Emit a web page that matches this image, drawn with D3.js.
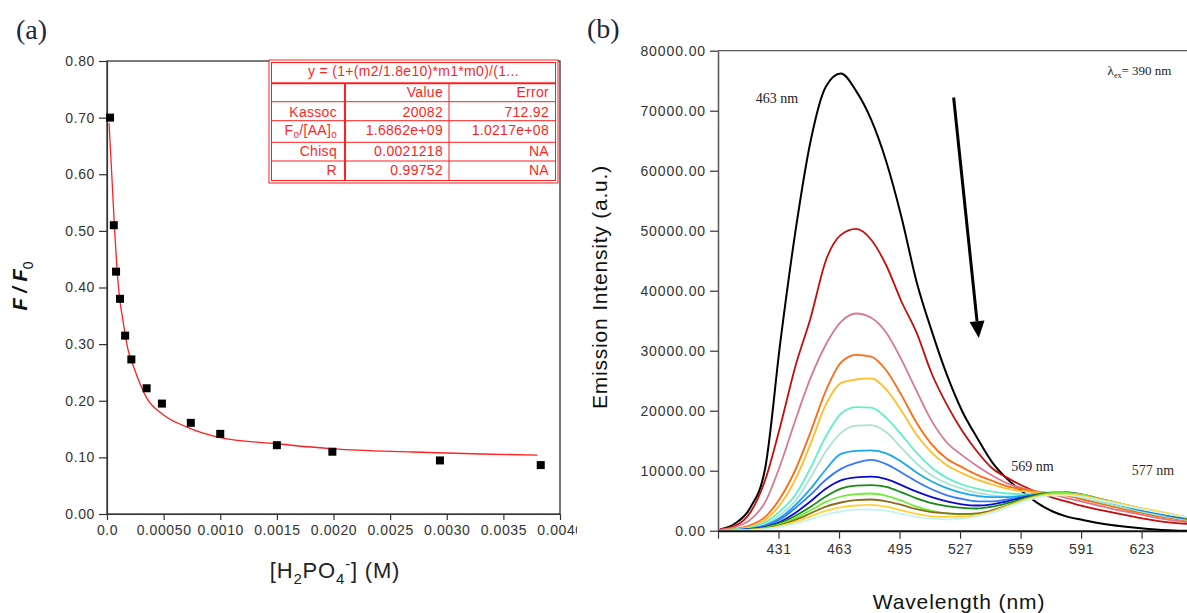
<!DOCTYPE html>
<html>
<head>
<meta charset="utf-8">
<script src="https://cdn.jsdelivr.net/npm/d3@7"></script>
<style>
body { margin: 0; background: #fff; }
svg { display: block; font-family: "Liberation Sans", Arial, sans-serif; }
.serif { font-family: "Liberation Serif", "Times New Roman", serif; }
</style>
</head>
<body>
<div id="chart"></div>
<script>
// ---------- panel (a) data : F/F0 vs [H2PO4-] ----------
const concX = [0.000027, 0.00006, 0.00008, 0.000115, 0.00016, 0.000215, 0.00035, 0.000485, 0.00074, 0.001, 0.0015, 0.00199, 0.00294, 0.00383];
const ratioY = [0.700, 0.510, 0.428, 0.380, 0.315, 0.273, 0.222, 0.195, 0.161, 0.1415, 0.1215, 0.110, 0.0946, 0.0864];

// fitted curve
const fitX = [0.000018, 0.000042, 0.000065, 0.000086, 0.000113, 0.000136, 0.000186, 0.000235, 0.00035, 0.0005, 0.0007, 0.001, 0.0015, 0.002, 0.0027, 0.0033, 0.0038];
const fitY = [0.690, 0.600, 0.510, 0.440, 0.378, 0.348, 0.290, 0.260, 0.205, 0.175, 0.154, 0.135, 0.124, 0.115, 0.1095, 0.106, 0.104];

const ratioTicks = [0, 0.1, 0.2, 0.3, 0.4, 0.5, 0.6, 0.7, 0.8];
const ratioTickLabels = ['0.00', '0.10', '0.20', '0.30', '0.40', '0.50', '0.60', '0.70', '0.80'];
const concTicks = [0, 0.0005, 0.001, 0.0015, 0.002, 0.0025, 0.003, 0.0035, 0.004];
const concTickLabels = ['0.0', '0.00050', '0.0010', '0.0015', '0.0020', '0.0025', '0.0030', '0.0035', '0.0040'];

const tableRows = [
  ['', 'Value', 'Error'],
  ['Kassoc', '20082', '712.92'],
  ['F0/[AA]0', '1.6862e+09', '1.0217e+08'],
  ['Chisq', '0.0021218', 'NA'],
  ['R', '0.99752', 'NA']
];

// ---------- panel (b) data : emission spectra ----------
const wavelengths = [400, 408, 416, 424, 432, 440, 448, 456, 464, 472, 480, 488, 496, 504, 512, 520,
                     528, 536, 544, 552, 560, 568, 576, 584, 592, 600, 608, 616, 624, 632, 640, 648];

const sBlack  = [200, 1200, 3800, 10500, 31500, 50000, 65000, 74000, 76200, 73300, 68500, 61500, 52300, 41500, 33300, 26000,
                 20000, 15500, 11400, 8600, 6500, 4600, 3200, 2300, 1800, 1300, 900, 600, 350, 150, 50, 0];
const sRed    = [200, 800, 3000, 8500, 17500, 27500, 35500, 45000, 49300, 50300, 48500, 44200, 38200, 33000, 26200, 21000,
                 16700, 13200, 10400, 8800, 7500, 6400, 5500, 4800, 4100, 3500, 3000, 2500, 2000, 1600, 1300, 1100];
const sPink   = [150, 600, 1800, 4800, 11000, 18500, 25500, 31000, 34800, 36200, 35500, 33000, 28500, 23300, 18300, 14700,
                 12600, 10800, 9200, 7900, 7100, 6500, 6000, 5400, 4800, 4200, 3600, 3100, 2600, 2100, 1700, 1400];
const sOrange = [100, 300, 900, 2300, 5500, 10200, 16500, 23300, 28000, 29300, 29000, 26700, 22600, 18000, 14400, 12000,
                 10600, 9300, 8300, 7400, 6900, 6500, 6200, 5800, 5200, 4600, 4000, 3400, 2900, 2400, 2000, 1600];
const sGold   = [80, 250, 700, 1800, 4400, 8600, 14500, 21000, 24600, 25200, 25400, 23500, 20000, 16000, 13000, 10900,
                 9600, 8500, 7700, 7000, 6600, 6400, 6300, 6000, 5500, 4900, 4300, 3700, 3200, 2700, 2300, 1900];
const sAqua   = [60, 200, 550, 1400, 3300, 6000, 10500, 15700, 19500, 20600, 20500, 18800, 16000, 13000, 10500, 8800,
                 7700, 7000, 6500, 6200, 6100, 6100, 6200, 6000, 5500, 4900, 4300, 3700, 3100, 2600, 2200, 1800];
const sSea    = [50, 150, 450, 1100, 2700, 5000, 8900, 13200, 16300, 17500, 17600, 16400, 13800, 11200, 9200, 7900,
                 7000, 6300, 5900, 5700, 5800, 5900, 6100, 6000, 5600, 5000, 4400, 3800, 3200, 2700, 2200, 1800];
const sSky    = [40, 120, 350, 900, 2200, 4300, 7000, 10200, 12800, 13300, 13400, 12900, 11500, 9700, 8200, 7100,
                 6300, 5800, 5600, 5600, 5800, 6100, 6300, 6200, 5800, 5200, 4600, 3900, 3300, 2800, 2300, 1900];
const sBlue   = [40, 100, 300, 800, 1900, 3800, 6000, 8500, 10300, 11300, 11800, 11100, 9700, 8200, 6900, 5900,
                 5300, 4900, 4900, 5200, 5600, 6000, 6300, 6200, 5800, 5200, 4600, 4000, 3400, 2900, 2400, 2000];
const sNavy   = [30, 80, 250, 650, 1500, 3000, 4900, 7000, 8400, 8900, 9000, 8600, 7600, 6500, 5600, 4900,
                 4400, 4200, 4400, 4900, 5500, 6000, 6300, 6400, 6000, 5400, 4800, 4200, 3500, 3000, 2500, 2000];
const sGreen  = [30, 70, 200, 550, 1300, 2500, 4000, 5700, 7000, 7500, 7600, 7300, 6400, 5400, 4600, 4100,
                 3800, 3700, 4000, 4600, 5300, 6000, 6400, 6300, 5900, 5300, 4700, 4100, 3500, 3000, 2500, 2000];
const sLime   = [20, 60, 170, 450, 1100, 2100, 3400, 4800, 5700, 6100, 6200, 5800, 5000, 4000, 3300, 2900,
                 2700, 2800, 3300, 4200, 5100, 5800, 6300, 6300, 6000, 5400, 4800, 4200, 3600, 3100, 2600, 2100];
const sOlive  = [20, 50, 150, 400, 950, 1800, 2900, 4000, 4700, 5100, 5200, 4900, 4300, 3600, 3100, 2900,
                 2800, 2900, 3400, 4200, 5000, 5700, 6100, 6100, 5800, 5300, 4700, 4100, 3600, 3100, 2600, 2100];
const sYellow = [15, 40, 120, 330, 800, 1500, 2400, 3300, 3900, 4200, 4300, 4000, 3400, 2800, 2400, 2300,
                 2300, 2600, 3200, 4100, 5000, 5700, 6100, 6100, 5800, 5300, 4800, 4200, 3700, 3200, 2700, 2200];
const sPale   = [10, 30, 100, 270, 650, 1200, 1900, 2700, 3200, 3500, 3500, 3300, 2800, 2300, 2000, 1900,
                 2000, 2400, 3000, 3900, 4800, 5500, 5900, 5900, 5600, 5100, 4600, 4000, 3500, 3000, 2600, 2200];

const spectra = [sBlack, sRed, sPink, sOrange, sGold, sAqua, sSea, sSky, sBlue, sNavy, sGreen, sLime, sOlive, sYellow, sPale];
const spectraColors = ['#000000', '#c40d0d', '#d9788f', '#ff6a13', '#ffbd2a', '#5ff0c8', '#abe2d0', '#1aa8ee',
                       '#3478ff', '#0a0ad0', '#168a16', '#6cee34', '#8b6d1a', '#ffd23a', '#c6f2f2'];

const intensityTicks = [0, 10000, 20000, 30000, 40000, 50000, 60000, 70000, 80000];
const wlTicks = [399, 431, 463, 495, 527, 559, 591, 623];
const wlTickLabels = ['', '431', '463', '495', '527', '559', '591', '623'];

// ---------- setup ----------
const WIDTH = 1187;
const HEIGHT = 613;

const svg = d3.select('#chart')
  .append('svg')
    .attr('width', WIDTH)
    .attr('height', HEIGHT);

svg.append('rect').attr('width', WIDTH).attr('height', HEIGHT).attr('fill', '#fff');

// panel (a) is cut off on its right, as in the source figure
svg.append('clipPath').attr('id', 'clipA')
  .append('rect').attr('x', 0).attr('y', 0).attr('width', 577).attr('height', HEIGHT);

const styleAxis = (g, size, spacing) => {
  g.selectAll('.domain').attr('stroke', '#333').attr('stroke-width', 1.2);
  g.selectAll('.tick line').attr('stroke', '#333').attr('stroke-width', 1.2);
  g.selectAll('.tick text')
    .attr('fill', '#333')
    .style('font-size', size + 'px')
    .style('letter-spacing', spacing + 'px');
};

// ================= panel (a) =================
const boxA = {left: 107, right: 560, top: 61, bottom: 514};

const xA = d3.scaleLinear().domain([0, 0.004]).range([boxA.left, boxA.right]);
const yA = d3.scaleLinear().domain([0, 0.8]).range([boxA.bottom, boxA.top]);

const gA = svg.append('g').attr('clip-path', 'url(#clipA)');

svg.append('text')
  .attr('class', 'serif')
  .attr('x', 16).attr('y', 39)
  .style('font-size', '28px')
  .attr('fill', '#1c2640')
  .text('(a)');

// frame
gA.append('rect')
  .attr('x', boxA.left).attr('y', boxA.top)
  .attr('width', boxA.right - boxA.left).attr('height', boxA.bottom - boxA.top)
  .attr('fill', 'none').attr('stroke', '#222').attr('stroke-width', 1.2);

gA.append('g')
  .attr('transform', `translate(${boxA.left},0)`)
  .call(d3.axisLeft(yA).tickValues(ratioTicks).tickFormat((d, i) => ratioTickLabels[i]).tickSize(8).tickSizeOuter(0).tickPadding(4))
  .call(g => styleAxis(g, 14, 0.6));

gA.append('g')
  .attr('transform', `translate(0,${boxA.bottom})`)
  .call(d3.axisBottom(xA).tickValues(concTicks).tickFormat((d, i) => concTickLabels[i]).tickSize(6).tickSizeOuter(0).tickPadding(5))
  .call(g => styleAxis(g, 14, 0.6));

// fit line
const fitData = fitX.map((x, i) => ({x, y: fitY[i]}));
gA.append('path')
  .datum(fitData)
  .attr('fill', 'none')
  .attr('stroke', '#ff2020')
  .attr('stroke-width', 1.3)
  .attr('d', d3.line().x(d => xA(d.x)).y(d => yA(d.y)).curve(d3.curveMonotoneX));

// data squares
const pts = concX.map((x, i) => ({x, y: ratioY[i]}));
gA.selectAll('.pt')
  .data(pts)
  .enter()
  .append('rect')
    .attr('class', 'pt')
    .attr('x', d => xA(d.x) - 4)
    .attr('y', d => yA(d.y) - 4)
    .attr('width', 8)
    .attr('height', 8)
    .attr('fill', '#000');

// axis titles
const yTitleA = gA.append('text')
  .attr('transform', 'translate(27,286) rotate(-90)')
  .attr('text-anchor', 'middle')
  .style('font-size', '20px')
  .style('font-weight', 'bold')
  .attr('fill', '#111');
yTitleA.append('tspan').style('font-style', 'italic').text('F / F');
yTitleA.append('tspan').attr('dy', 6).style('font-size', '14px').style('font-weight', 'normal').text('0');

const xTitleA = gA.append('text')
  .attr('x', 335).attr('y', 578)
  .attr('text-anchor', 'middle')
  .style('font-size', '22px')
  .style('letter-spacing', '0.8px')
  .attr('fill', '#222');
xTitleA.append('tspan').text('[H');
xTitleA.append('tspan').attr('dy', 6).style('font-size', '15px').text('2');
xTitleA.append('tspan').attr('dy', -6).text('PO');
xTitleA.append('tspan').attr('dy', 6).style('font-size', '15px').text('4');
xTitleA.append('tspan').attr('dy', -15).style('font-size', '15px').text('-');
xTitleA.append('tspan').attr('dy', 9).text('] (M)');

// results table
const tbl = {x: 269, y: 60, w: 289, h: 123};
const tblRed = '#ff1f1f';
const rowLines = [83.3, 101.7, 120.7, 142.3, 161];
const colLines = [345, 449];
const colRight = [337, 443, 549];
const rowBase = [97, 116.5, 135, 155.5, 175];

const gT = gA.append('g');
gT.append('rect').attr('x', tbl.x).attr('y', tbl.y).attr('width', tbl.w).attr('height', tbl.h)
  .attr('fill', '#fff').attr('stroke', tblRed).attr('stroke-width', 1);
gT.append('rect').attr('x', tbl.x + 2.5).attr('y', tbl.y + 2.5).attr('width', tbl.w - 5).attr('height', tbl.h - 5)
  .attr('fill', 'none').attr('stroke', tblRed).attr('stroke-width', 1);

rowLines.forEach((y, i) => {
  gT.append('line').attr('x1', tbl.x + 2.5).attr('x2', tbl.x + tbl.w - 2.5).attr('y1', y).attr('y2', y)
    .attr('stroke', tblRed).attr('stroke-width', i === 0 ? 2 : 1);
});
colLines.forEach((x, i) => {
  gT.append('line').attr('x1', x).attr('x2', x).attr('y1', rowLines[0]).attr('y2', tbl.y + tbl.h - 2.5)
    .attr('stroke', tblRed).attr('stroke-width', i === 0 ? 2 : 1);
});

gT.append('text')
  .attr('x', tbl.x + tbl.w / 2).attr('y', 76)
  .attr('text-anchor', 'middle')
  .style('font-size', '14px')
  .style('letter-spacing', '0.3px')
  .attr('fill', tblRed)
  .text('y = (1+(m2/1.8e10)*m1*m0)/(1...');

tableRows.forEach((row, r) => {
  row.forEach((cell, c) => {
    const t = gT.append('text')
      .attr('x', colRight[c]).attr('y', rowBase[r])
      .attr('text-anchor', 'end')
      .style('font-size', '14px')
      .style('letter-spacing', '0.3px')
      .attr('fill', tblRed);
    if (r === 2 && c === 0) {
      t.append('tspan').text('F');
      t.append('tspan').attr('dy', 3).style('font-size', '10px').text('o');
      t.append('tspan').attr('dy', -3).text('/[AA]');
      t.append('tspan').attr('dy', 3).style('font-size', '10px').text('o');
    } else {
      t.text(cell);
    }
  });
});

// ================= panel (b) =================
const boxB = {left: 718, right: 1187, top: 50.7, bottom: 530.7};

const xB = d3.scaleLinear().domain([399, 647]).range([boxB.left, boxB.right]);
const yB = d3.scaleLinear().domain([0, 80000]).range([boxB.bottom, boxB.top]);

const gB = svg.append('g');

svg.append('text')
  .attr('class', 'serif')
  .attr('x', 587).attr('y', 38)
  .style('font-size', '28px')
  .attr('fill', '#1c2640')
  .text('(b)');

gB.append('line')
  .attr('x1', boxB.left).attr('x2', boxB.right).attr('y1', boxB.top).attr('y2', boxB.top)
  .attr('stroke', '#555').attr('stroke-width', 1.3);

// spectra
const lineB = d3.line()
  .x((d, i) => xB(wavelengths[i]))
  .y(d => yB(d))
  .curve(d3.curveMonotoneX);

gB.selectAll('.spec')
  .data(spectra)
  .enter()
  .append('path')
    .attr('class', 'spec')
    .attr('fill', 'none')
    .attr('stroke', (d, i) => spectraColors[i])
    .attr('stroke-width', (d, i) => i === 0 ? 2 : 1.8)
    .attr('d', lineB);

gB.append('g')
  .attr('transform', `translate(${boxB.left},0)`)
  .call(d3.axisLeft(yB).tickValues(intensityTicks).tickFormat(d3.format('.2f')).tickSize(8).tickSizeOuter(0).tickPadding(4))
  .call(g => styleAxis(g, 14, 0.9))
  .call(g => g.selectAll('.domain').attr('stroke', '#555').attr('stroke-width', 1.5));

gB.append('g')
  .attr('transform', `translate(0,${boxB.bottom})`)
  .call(d3.axisBottom(xB).tickValues(wlTicks).tickFormat((d, i) => wlTickLabels[i]).tickSize(8).tickSizeOuter(0).tickPadding(5))
  .call(g => styleAxis(g, 14, 0.6))
  .call(g => g.selectAll('.domain').attr('stroke', '#111').attr('stroke-width', 2));

// annotations
const annoB = gB.append('g').attr('class', 'serif').attr('fill', '#222').style('font-size', '14px');
annoB.append('text').attr('x', xB(419)).attr('y', yB(71300)).text('463 nm');
annoB.append('text').attr('x', xB(554)).attr('y', yB(10000)).attr('fill', '#1e2236').text('569 nm');
annoB.append('text').attr('x', xB(617.8)).attr('y', yB(9300)).attr('fill', '#3a2a14').text('577 nm');
const lam = annoB.append('text').attr('x', xB(605)).attr('y', yB(76000)).style('font-size', '13px');
lam.append('tspan').text('λ');
lam.append('tspan').attr('dy', 3).style('font-size', '8px').text('ex');
lam.append('tspan').attr('dy', -3).text('= 390 nm');

// arrow
const arrowFrom = [523.6, 72200];
const arrowTo = [536.9, 32100];
const ax1 = xB(arrowFrom[0]), ay1 = yB(arrowFrom[1]);
const ax2 = xB(arrowTo[0]), ay2 = yB(arrowTo[1]);
const ang = Math.atan2(ay2 - ay1, ax2 - ax1);
const headLen = 17, headHalf = 7.5;
const bx = ax2 - headLen * Math.cos(ang), by = ay2 - headLen * Math.sin(ang);
gB.append('line')
  .attr('x1', ax1).attr('y1', ay1).attr('x2', bx).attr('y2', by)
  .attr('stroke', '#000').attr('stroke-width', 3);
gB.append('path')
  .attr('d', `M${ax2},${ay2} L${bx + headHalf * Math.sin(ang)},${by - headHalf * Math.cos(ang)} L${bx - headHalf * Math.sin(ang)},${by + headHalf * Math.cos(ang)} Z`)
  .attr('fill', '#000');

// axis titles
gB.append('text')
  .attr('transform', 'translate(607,287) rotate(-90)')
  .attr('text-anchor', 'middle')
  .style('font-size', '21px')
  .style('letter-spacing', '0.8px')
  .attr('fill', '#111')
  .text('Emission Intensity (a.u.)');

gB.append('text')
  .attr('x', 959).attr('y', 609)
  .attr('text-anchor', 'middle')
  .style('font-size', '21px')
  .style('letter-spacing', '0.9px')
  .attr('fill', '#111')
  .text('Wavelength (nm)');
</script>
</body>
</html>
